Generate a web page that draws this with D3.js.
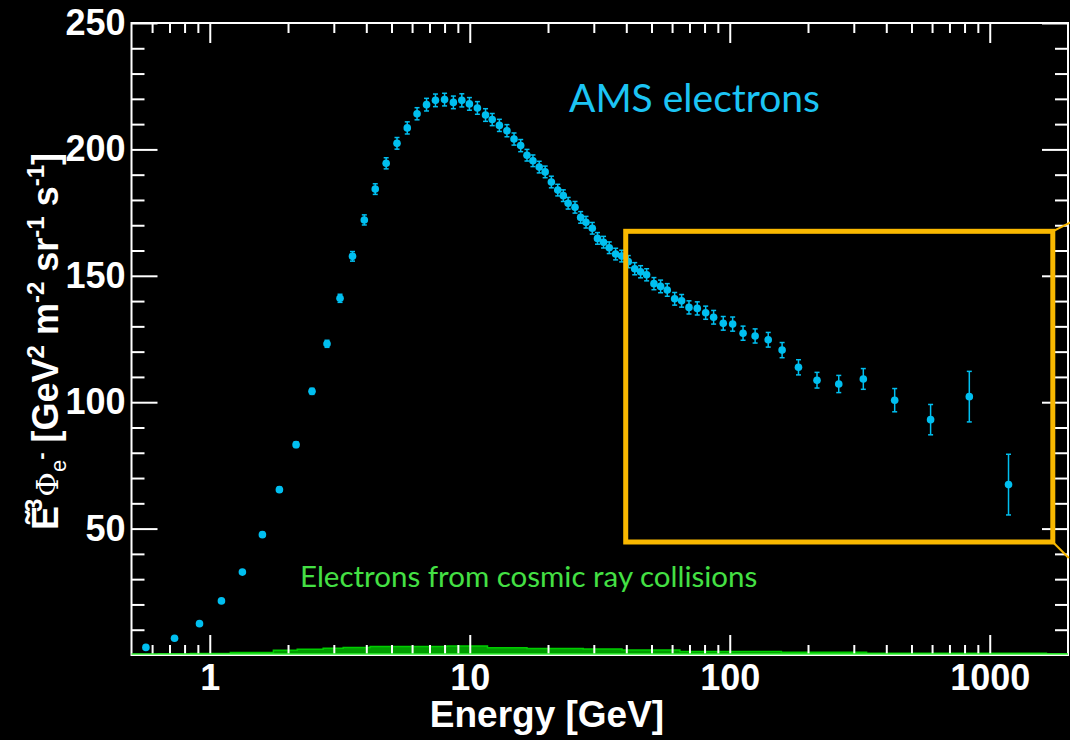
<!DOCTYPE html>
<html>
<head>
<meta charset="utf-8">
<script src="https://cdn.jsdelivr.net/npm/d3@7"></script>
<style>
  html, body { margin: 0; padding: 0; background: #000; }
  svg { display: block; }
</style>
</head>
<body>
<div id="chart"></div>
<script>
// AMS electrons, E^3 * flux  [GeV^2 m^-2 sr^-1 s^-1]
var energy = [0.568, 0.732, 0.913, 1.109, 1.335, 1.594, 1.853, 2.148, 2.473, 2.825,
  3.17, 3.54, 3.93, 4.33, 4.77, 5.25, 5.75, 6.27, 6.82, 7.38,
  8.0, 8.65, 9.32, 9.97, 10.7, 11.5, 12.2, 13.0, 13.9, 14.8,
  15.7, 16.6, 17.5, 18.5, 19.5, 20.6, 21.8, 22.9, 23.9, 25.4,
  26.7, 28.0, 29.6, 31.0, 32.7, 34.4, 36.4, 38.4, 40.7, 43.1,
  45.4, 47.9, 51.1, 54.2, 57.5, 61.4, 65.3, 69.7, 75.0, 80.8,
  86.7, 94.4, 102.6, 112.5, 125.2, 140.6, 159.0, 183.8, 216.6, 262.6,
  326.4, 430.9, 592.3, 834.5, 1181];
var flux = [3.0, 6.6, 12.4, 21.4, 32.8, 47.6, 65.4, 83.2, 104.3, 123.1,
  141.1, 157.7, 172.1, 184.3, 194.5, 202.4, 208.5, 214.1, 217.7, 219.4,
  219.7, 218.6, 219.4, 218.0, 216.4, 213.6, 211.8, 209.5, 207.4, 204.1,
  201.5, 197.7, 195.5, 193.0, 191.1, 187.1, 183.9, 181.7, 178.7, 177.1,
  173.1, 171.2, 168.8, 164.8, 163.3, 161.1, 158.6, 157.8, 155.6, 152.8,
  151.6, 150.4, 146.9, 145.8, 144.4, 140.9, 140.1, 137.5, 137.1, 135.4,
  133.6, 131.2, 130.9, 127.3, 126.2, 124.7, 120.6, 113.8, 108.7, 107.2,
  109.2, 100.8, 93.1, 102.2, 67.4];
var fluxErr = [0.3, 0.4, 0.5, 0.6, 0.7, 0.9, 1.0, 1.1, 1.2, 1.4,
  1.6, 1.9, 2.0, 2.1, 2.2, 2.3, 2.4, 2.4, 2.5, 2.5,
  2.5, 2.5, 2.6, 2.5, 2.5, 2.5, 2.4, 2.4, 2.4, 2.4,
  2.4, 2.3, 2.3, 2.3, 2.3, 2.3, 2.3, 2.3, 2.3, 2.3,
  2.3, 2.3, 2.3, 2.3, 2.3, 2.3, 2.3, 2.3, 2.4, 2.4,
  2.4, 2.4, 2.4, 2.5, 2.5, 2.5, 2.5, 2.6, 2.6, 2.6,
  2.7, 2.7, 2.8, 2.8, 2.8, 2.9, 3.0, 3.0, 3.1, 3.4,
  4.1, 4.6, 6.0, 10.0, 12.0];

// secondary electrons from cosmic ray collisions (step band)
var bgEdges = [0.5, 0.635, 0.843, 1.2, 1.757, 2.17, 2.73, 3.26, 4.14, 8.19,
  11.7, 16.6, 27.3, 38.5, 64.3, 158, 336, 1652, 2000];
var bgValues = [0.2, 0.4, 0.6, 1.0, 1.9, 2.3, 2.7, 3.0, 3.4, 3.6,
  2.9, 2.6, 2.4, 2.0, 1.4, 1.1, 0.7, 0.4];

var xMajor = [1, 10, 100, 1000];
var yMajor = [50, 100, 150, 200, 250];
var yMinor = [10, 20, 30, 40, 60, 70, 80, 90, 110, 120, 130, 140, 160, 170, 180, 190, 210, 220, 230, 240];

// highlighted region (energy, flux)
var boxEnergy = [39.8, 1748];
var boxFlux = [44.7, 167.6];

var W = 1070, H = 740;
var margin = { top: 23, right: 2, bottom: 85, left: 131.5 };
var pointColor = '#00bff0';
var orange = '#f9b800';

var svg = d3.select('#chart').append('svg')
    .attr('width', W)
    .attr('height', H)
    .style('background', '#000');

var x = d3.scaleLog()
    .domain([0.5, 2000])
    .range([margin.left, W - margin.right]);

var y = d3.scaleLinear()
    .domain([0, 250])
    .range([H - margin.bottom, margin.top]);

var x0 = x.range()[0], x1 = x.range()[1];
var y0 = y.range()[0], y1 = y.range()[1];

// background band
var bgData = bgEdges.map(function (e, i) {
    return { e: e, v: bgValues[Math.min(i, bgValues.length - 1)] };
});
svg.append('path')
    .datum(bgData)
    .attr('fill', '#009c00')
    .attr('d', d3.area().curve(d3.curveStepAfter)
        .x(function (d) { return x(d.e); })
        .y0(y(0))
        .y1(function (d) { return y(d.v); }));
svg.append('path')
    .datum(bgData)
    .attr('fill', 'none')
    .attr('stroke', '#00cc00')
    .attr('stroke-width', 1.5)
    .attr('d', d3.line().curve(d3.curveStepAfter)
        .x(function (d) { return x(d.e); })
        .y(function (d) { return y(d.v); }));

// x minor ticks
var xMinor = x.ticks().filter(function (t) {
    return xMajor.indexOf(t) < 0 && t > 0.5 && t < 2000;
});

function styleAxis(g) {
    g.select('.domain').remove();
    g.selectAll('.tick line').attr('stroke', '#fff').attr('stroke-width', 2);
    g.selectAll('.tick text')
        .attr('fill', '#fff')
        .style('font-family', '"Liberation Sans", Arial, sans-serif')
        .style('font-weight', 'bold')
        .style('font-size', '36px');
}

// bottom
svg.append('g').attr('transform', 'translate(0,' + y0 + ')')
    .call(d3.axisBottom(x).tickValues(xMajor).tickSize(-20).tickPadding(9)
        .tickFormat(d3.format('d')))
    .call(styleAxis);
svg.append('g').attr('transform', 'translate(0,' + y0 + ')')
    .call(d3.axisBottom(x).tickValues(xMinor).tickSize(-10).tickFormat(''))
    .call(styleAxis);
// top
svg.append('g').attr('transform', 'translate(0,' + y1 + ')')
    .call(d3.axisTop(x).tickValues(xMajor).tickSize(-20).tickFormat(''))
    .call(styleAxis);
svg.append('g').attr('transform', 'translate(0,' + y1 + ')')
    .call(d3.axisTop(x).tickValues(xMinor).tickSize(-10).tickFormat(''))
    .call(styleAxis);
// left
svg.append('g').attr('transform', 'translate(' + x0 + ',0)')
    .call(d3.axisLeft(y).tickValues(yMajor).tickSize(-26).tickPadding(6))
    .call(styleAxis);
svg.append('g').attr('transform', 'translate(' + x0 + ',0)')
    .call(d3.axisLeft(y).tickValues(yMinor).tickSize(-13).tickFormat(''))
    .call(styleAxis);
// right
svg.append('g').attr('transform', 'translate(' + x1 + ',0)')
    .call(d3.axisRight(y).tickValues(yMajor).tickSize(-26).tickFormat(''))
    .call(styleAxis);
svg.append('g').attr('transform', 'translate(' + x1 + ',0)')
    .call(d3.axisRight(y).tickValues(yMinor).tickSize(-13).tickFormat(''))
    .call(styleAxis);

// frame
svg.append('rect')
    .attr('x', x0).attr('y', y1)
    .attr('width', x1 - x0).attr('height', y0 - y1)
    .attr('fill', 'none')
    .attr('stroke', '#fff')
    .attr('stroke-width', 2);
svg.append('line')
    .attr('x1', x0).attr('x2', x1)
    .attr('y1', y0 - 1).attr('y2', y0 - 1)
    .attr('stroke', '#33ee33')
    .attr('stroke-width', 1.5);

// data points
var pts = energy.map(function (e, i) {
    return { e: e, v: flux[i], err: fluxErr[i] };
});
var bars = svg.append('g').attr('stroke', pointColor).attr('stroke-width', 1.5);
bars.selectAll('.bar').data(pts).enter().append('line')
    .attr('x1', function (d) { return x(d.e); })
    .attr('x2', function (d) { return x(d.e); })
    .attr('y1', function (d) { return y(d.v - d.err); })
    .attr('y2', function (d) { return y(d.v + d.err); });
[-1, 1].forEach(function (s) {
    bars.selectAll('.cap' + s).data(pts).enter().append('line')
        .attr('x1', function (d) { return x(d.e) - 2.5; })
        .attr('x2', function (d) { return x(d.e) + 2.5; })
        .attr('y1', function (d) { return y(d.v + s * d.err); })
        .attr('y2', function (d) { return y(d.v + s * d.err); });
});
svg.append('g').selectAll('circle').data(pts).enter().append('circle')
    .attr('cx', function (d) { return x(d.e); })
    .attr('cy', function (d) { return y(d.v); })
    .attr('r', 3.8)
    .attr('fill', pointColor);

// highlight box
var bx0 = x(boxEnergy[0]), bx1 = x(boxEnergy[1]);
var by0 = y(boxFlux[1]), by1 = y(boxFlux[0]);
svg.append('rect')
    .attr('x', bx0).attr('y', by0)
    .attr('width', bx1 - bx0).attr('height', by1 - by0)
    .attr('fill', 'none')
    .attr('stroke', orange)
    .attr('stroke-width', 5);
svg.append('line')
    .attr('x1', bx1).attr('y1', by0)
    .attr('x2', bx1 + 20).attr('y2', by0 - 10)
    .attr('stroke', orange).attr('stroke-width', 2);
svg.append('line')
    .attr('x1', bx1).attr('y1', by1)
    .attr('x2', bx1 + 16).attr('y2', by1 + 16)
    .attr('stroke', orange).attr('stroke-width', 2);

// annotations
svg.append('text')
    .attr('x', 569).attr('y', 112)
    .attr('fill', '#1cc4f4')
    .style('font-family', 'Lato, "Open Sans", sans-serif')
    .style('font-size', '39px')
    .text('AMS electrons');

svg.append('text')
    .attr('x', 300).attr('y', 587)
    .attr('fill', '#44e044')
    .style('font-family', 'Lato, "Open Sans", sans-serif')
    .style('font-size', '29.5px')
    .text('Electrons from cosmic ray collisions');

// axis titles
svg.append('text')
    .attr('x', 547).attr('y', 727)
    .attr('text-anchor', 'middle')
    .attr('fill', '#fff')
    .style('font-family', '"Liberation Sans", Arial, sans-serif')
    .style('font-weight', 'bold')
    .style('font-size', '37px')
    .text('Energy [GeV]');

var yt = svg.append('text')
    .attr('transform', 'translate(58,530) rotate(-90)')
    .attr('fill', '#fff')
    .style('font-family', '"Liberation Sans", Arial, sans-serif')
    .style('font-weight', 'bold')
    .style('font-size', '36px');
yt.append('tspan').text('\u1EBC');
yt.append('tspan').attr('dy', -16).attr('dx', -6).style('font-size', '24px').text('3');
yt.append('tspan').attr('dy', 16).attr('dx', 2)
    .style('font-family', '"DejaVu Serif", serif').style('font-weight', 'normal').style('font-size', '30px')
    .text('\u03A6');
yt.append('tspan').attr('dy', 8).style('font-size', '22px').style('font-weight', 'normal').text('e');
yt.append('tspan').attr('dy', -18).style('font-size', '22px').text('-');
yt.append('tspan').attr('dy', 10).text(' [GeV');
yt.append('tspan').attr('dy', -14).style('font-size', '24px').text('2');
yt.append('tspan').attr('dy', 14).text(' m');
yt.append('tspan').attr('dy', -14).style('font-size', '24px').text('-2');
yt.append('tspan').attr('dy', 14).text(' sr');
yt.append('tspan').attr('dy', -14).style('font-size', '24px').text('-1');
yt.append('tspan').attr('dy', 14).text(' s');
yt.append('tspan').attr('dy', -14).style('font-size', '24px').text('-1');
yt.append('tspan').attr('dy', 14).text(']');
</script>
</body>
</html>
